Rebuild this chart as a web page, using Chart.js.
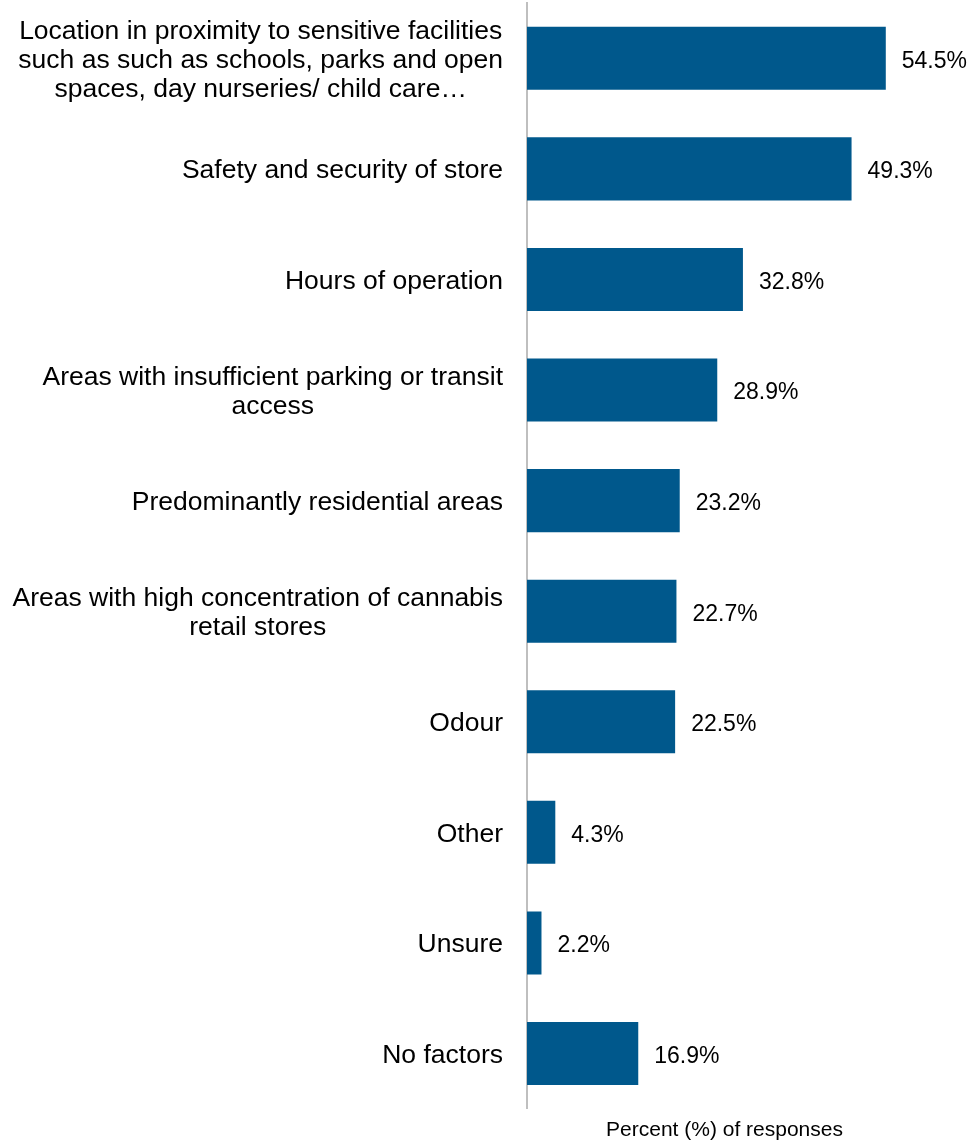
<!DOCTYPE html>
<html>
<head>
<meta charset="utf-8">
<script src="https://cdn.jsdelivr.net/npm/chart.js@4"></script>
<style>
  html, body { margin: 0; padding: 0; background: #fff; }
  #wrap { width: 971px; height: 1143px; }
</style>
</head>
<body>
<div id="wrap"><canvas id="chart"></canvas></div>
<script>
// categories (each entry = lines of the label)
var categories = [
    ['Location in proximity to sensitive facilities', 'such as such as schools, parks and open', 'spaces, day nurseries/ child care\u2026'],
    ['Safety and security of store'],
    ['Hours of operation'],
    ['Areas with insufficient parking or transit', 'access'],
    ['Predominantly residential areas'],
    ['Areas with high concentration of cannabis', 'retail stores'],
    ['Odour'],
    ['Other'],
    ['Unsure'],
    ['No factors']
];
var percentValues = [54.5, 49.3, 32.8, 28.9, 23.2, 22.7, 22.5, 4.3, 2.2, 16.9];
var axisTitle = 'Percent (%) of responses';

var FONT = '"Liberation Sans", Arial, sans-serif';

// draws the category labels (lines centred, block right aligned) and the value labels
var labelPlugin = {
    id: 'labelPlugin',
    afterDraw: function (chart) {
        var ctx = chart.ctx;
        var yScale = chart.scales.y;
        var meta = chart.getDatasetMeta(0);
        ctx.save();
        ctx.fillStyle = '#000';
        ctx.textBaseline = 'middle';

        ctx.font = '26.5px ' + FONT;
        var lineH = 29;
        var rightEdge = chart.chartArea.left - 24;
        categories.forEach(function (lines, i) {
            var cy = yScale.getPixelForValue(i) + 2;
            var maxW = 0;
            lines.forEach(function (l) { maxW = Math.max(maxW, ctx.measureText(l).width); });
            var cx = rightEdge - maxW / 2;
            ctx.textAlign = 'center';
            var startY = cy - (lines.length - 1) * lineH / 2;
            lines.forEach(function (l, j) {
                ctx.fillText(l, cx, startY + j * lineH);
            });
        });

        ctx.font = '23px ' + FONT;
        ctx.textAlign = 'left';
        meta.data.forEach(function (bar, i) {
            ctx.fillText(percentValues[i].toFixed(1) + '%', bar.x + 16, bar.y + 3);
        });
        ctx.restore();
    }
};

var ctx = document.getElementById('chart').getContext('2d');
var chart = new Chart(ctx, {
    type: 'bar',
    data: {
        labels: categories.map(function (c) { return c.join(' '); }),
        datasets: [{
            data: percentValues,
            backgroundColor: '#00588C',
            categoryPercentage: 1.0,
            barPercentage: 0.57
        }]
    },
    options: {
        indexAxis: 'y',
        responsive: true,
        maintainAspectRatio: false,
        animation: false,
        layout: {
            padding: { left: 527, right: 49, top: 3, bottom: 0 }
        },
        plugins: {
            legend: { display: false },
            tooltip: { enabled: false }
        },
        scales: {
            x: {
                min: 0,
                max: 60,
                grid: { display: false, drawTicks: false },
                border: { display: false },
                ticks: { display: false },
                title: {
                    display: true,
                    text: axisTitle,
                    color: '#000',
                    font: { family: FONT, size: 21 },
                    padding: { top: 9, bottom: 0 }
                }
            },
            y: {
                grid: { display: false, drawTicks: false },
                border: { display: true, color: '#BFBFBF', width: 2 },
                ticks: { display: false }
            }
        }
    },
    plugins: [labelPlugin]
});
</script>
</body>
</html>
